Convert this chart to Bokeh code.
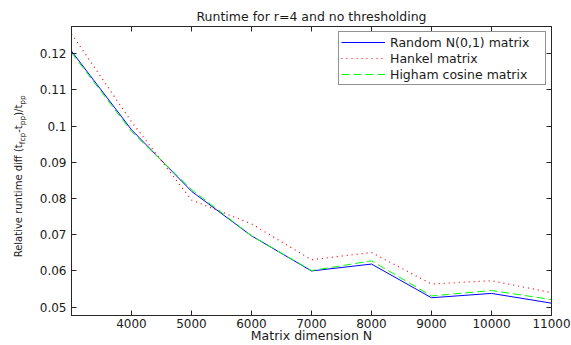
from math import pi
from bokeh.plotting import figure
from bokeh.layouts import row
from bokeh.models import Range1d, FixedTicker, LinearAxis, Legend, LegendItem, ColumnDataSource
from bokeh.core.properties import value
from bokeh.embed import file_html
from bokeh.resources import INLINE

# ---- data ----
dims = [3000, 4000, 5000, 6000, 7000, 8000, 9000, 10000, 11000]
random_n01 = [0.1207, 0.0990, 0.0820, 0.0697, 0.0600, 0.0619, 0.0526, 0.0538, 0.0511]
hankel = [0.1255, 0.1012, 0.0796, 0.0730, 0.0631, 0.0651, 0.0564, 0.0573, 0.0540]
higham = [0.1203, 0.0985, 0.0825, 0.0697, 0.0601, 0.0628, 0.0531, 0.0546, 0.0521]

series_labels = ["Random N(0,1) matrix", "Hankel matrix", "Higham cosine matrix"]
x_ticks = [4000, 5000, 6000, 7000, 8000, 9000, 10000, 11000]
x_tick_labels = ["4000", "5000", "6000", "7000", "8000", "9000", "10000", "11000"]
y_ticks = [0.05, 0.06, 0.07, 0.08, 0.09, 0.1, 0.11, 0.12]
y_tick_labels = ["0.05", "0.06", "0.07", "0.08", "0.09", "0.1", "0.11", "0.12"]

title_text = "Runtime for r=4 and no thresholding"
xlabel_text = "Matrix dimension N"
ylabel_parts = [("Relative runtime diff (t", False), ("fcp", True), ("-t", False),
                ("pp", True), (")/t", False), ("pp", True)]

FONT = "DejaVu Sans"
AX = "#262626"
TXT = "#1a1a1a"

YLAB_W = 36
W_TOTAL, H_TOTAL = 571, 345
FRAME_TOP, FRAME_BOTTOM = 26.0, 316.45   # where the main plot frame ends up

# ---------------- main plot ----------------
p = figure(width=W_TOTAL - YLAB_W, height=H_TOTAL, output_backend="svg", toolbar_location=None,
           x_range=Range1d(3000, 11000), y_range=Range1d(0.0477, 0.1275),
           min_border_left=69 - YLAB_W, min_border_right=20, min_border_top=26,
           min_border_bottom=28, background_fill_color="white", border_fill_color="white")
p.grid.visible = False
p.outline_line_color = AX
p.outline_line_width = 1

p.title.text = title_text
p.title.align = "center"
p.title.text_font = FONT
p.title.text_font_size = "12.5px"
p.title.text_font_style = "normal"
p.title.text_color = TXT
p.title.standoff = 5

xt = FixedTicker(ticks=x_ticks)
yt = FixedTicker(ticks=y_ticks)
xo = {t: s for t, s in zip(x_ticks, x_tick_labels)}
yo = {t: s for t, s in zip(y_ticks, y_tick_labels)}


def style_axis(ax, ticker, overrides, show_labels=True):
    ax.ticker = ticker
    ax.major_label_overrides = overrides
    ax.axis_line_color = AX
    ax.major_tick_line_color = AX
    ax.major_tick_in = 5
    ax.major_tick_out = 0
    ax.minor_tick_line_color = None
    ax.major_label_text_font = FONT
    if show_labels:
        ax.major_label_text_font_size = "12px"
        ax.major_label_text_color = TXT
    else:
        ax.major_label_text_font_size = "0px"
        ax.major_label_text_color = None
        ax.major_label_standoff = 0


style_axis(p.xaxis[0], xt, xo)
p.xaxis[0].major_label_standoff = 3
p.xaxis[0].axis_label = xlabel_text
p.xaxis[0].axis_label_text_font = FONT
p.xaxis[0].axis_label_text_font_size = "12.5px"
p.xaxis[0].axis_label_text_font_style = "normal"
p.xaxis[0].axis_label_text_color = TXT
p.xaxis[0].axis_label_standoff = -3

style_axis(p.yaxis[0], yt, yo)
p.yaxis[0].major_label_standoff = 5

top_ax = LinearAxis()
style_axis(top_ax, xt, xo, show_labels=False)
p.add_layout(top_ax, "above")
right_ax = LinearAxis()
style_axis(right_ax, yt, yo, show_labels=False)
p.add_layout(right_ax, "right")

r1 = p.line(dims, random_n01, line_color="#0000ff", line_width=1)
r2 = p.line(dims, hankel, line_color="#ff0000", line_width=1.2, line_dash="1 4")
r3 = p.line(dims, higham, line_color="#00ff00", line_width=1, line_dash="8 4")

legend = Legend(items=[LegendItem(label=series_labels[0], renderers=[r1]),
                       LegendItem(label=series_labels[1], renderers=[r2]),
                       LegendItem(label=series_labels[2], renderers=[r3])],
                location="top_right", margin=5, padding=2, spacing=0,
                label_height=16, glyph_height=16, glyph_width=44, label_standoff=5,
                label_width=153, label_text_font=FONT, label_text_font_size="12.5px",
                label_text_color=TXT,
                border_line_color=AX, border_line_width=1, background_fill_color="white",
                background_fill_alpha=1.0)
p.add_layout(legend)

# ---------------- y label strip (rotated text with subscripts) ----------------
# its frame is aligned with the main frame, so its y range spans the same page rows
ylab = figure(width=YLAB_W, height=H_TOTAL, output_backend="svg", toolbar_location=None,
              x_range=Range1d(0, YLAB_W),
              y_range=Range1d(H_TOTAL - FRAME_BOTTOM, H_TOTAL - FRAME_TOP),
              x_axis_location=None, y_axis_location=None,
              min_border=0, min_border_left=0, min_border_right=0,
              min_border_top=0, min_border_bottom=0,
              background_fill_color="white", border_fill_color="white")
ylab.title.visible = False
ylab.grid.visible = False
ylab.outline_line_color = None

W = {" ": .318, "(": .390, ")": .390, "-": .361, "/": .337, "R": .695, "a": .613,
     "c": .550, "d": .635, "e": .615, "f": .352, "i": .278, "l": .278, "m": .974,
     "n": .634, "p": .635, "r": .411, "t": .392, "u": .634, "v": .592}
MAIN, SUB = 10.0, 7.5
main_src = dict(x=[], y=[], text=[])
sub_src = dict(x=[], y=[], text=[])
pos = H_TOTAL - 258.0
for txt, is_sub in ylabel_parts:
    size = SUB if is_sub else MAIN
    d = sub_src if is_sub else main_src
    d["x"].append(21.5 if is_sub else 18.3)
    d["y"].append(pos)
    d["text"].append(txt)
    pos += sum(W.get(ch, .6) for ch in txt) * size

for d, size in ((main_src, MAIN), (sub_src, SUB)):
    ylab.text(x="x", y="y", text="text", source=ColumnDataSource(d), angle=pi / 2,
              text_align="left", text_baseline="alphabetic", text_font=value(FONT),
              text_font_size=value(f"{size}px"), text_color=TXT)

layout = row(ylab, p)
open("out.html", "w").write(file_html(layout, INLINE))
